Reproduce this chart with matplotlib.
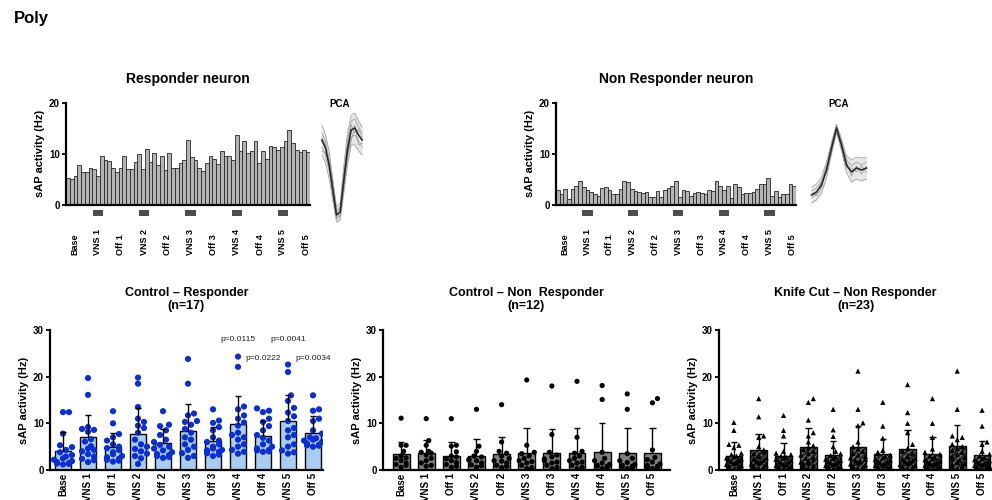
import numpy as np
import matplotlib
matplotlib.use('Agg')
import matplotlib.pyplot as plt
from matplotlib.transforms import blended_transform_factory

plt.rcParams['font.family'] = ['Liberation Sans', 'DejaVu Sans']
plt.rcParams['hatch.linewidth'] = 0.7

# ---------------- data ----------------
periods = ['Base', 'VNS 1', 'Off 1', 'VNS 2', 'Off 2', 'VNS 3',
           'Off 3', 'VNS 4', 'Off 4', 'VNS 5', 'Off 5']

# single-neuron firing, one bar per bin
resp_trace = [5.3, 5.0, 5.6, 7.8, 6.5, 6.5, 7.3, 7.0, 5.7, 9.6,
              8.8, 8.6, 7.3, 6.5, 7.2, 9.6, 7.0, 7.0, 8.5, 9.9,
              7.0, 11.0, 8.5, 10.1, 7.8, 9.5, 6.8, 10.1, 7.3, 7.2,
              8.3, 8.7, 12.7, 9.3, 8.7, 7.3, 6.6, 8.3, 9.5, 9.0,
              8.1, 10.6, 9.6, 9.6, 8.8, 13.6, 10.5, 12.5, 10.2, 10.5,
              12.6, 8.3, 10.5, 9.0, 11.6, 11.3, 10.7, 11.3, 12.6, 14.7,
              12.1, 10.7, 10.3, 10.7, 10.3]
nonresp_trace = [2.9, 2.1, 3.1, 1.1, 3.1, 3.7, 4.7, 3.6, 2.9, 2.6,
                 2.1, 1.8, 3.3, 3.6, 2.9, 2.1, 2.1, 3.1, 4.6, 4.4,
                 3.1, 2.7, 2.6, 2.4, 2.5, 1.5, 1.5, 2.7, 1.5, 2.9,
                 3.3, 3.7, 4.7, 1.5, 2.9, 2.8, 1.8, 2.3, 2.5, 2.4,
                 2.1, 2.9, 2.7, 4.7, 3.7, 2.9, 3.7, 1.4, 4.1, 3.6,
                 2.2, 2.4, 2.3, 2.5, 3.1, 4.1, 4.1, 5.2, 1.8, 2.7,
                 1.5, 2.2, 2.1, 4.1, 3.7]
trace_label_pos = [1.8, 8.0, 14.1, 20.3, 26.5, 32.6, 38.8, 45.0, 51.2, 57.3, 63.5]
vns_start = [6.6, 18.9, 31.2, 43.6, 55.9]
vns_width = 2.8

# spike waveforms (PCA cluster): individual traces and mean
resp_waves = [
    [100, 90, 74, 46, 18, 22, 60, 92, 110, 112, 104, 98],
    [92, 84, 66, 40, 12, 16, 52, 84, 104, 106, 98, 92],
    [88, 80, 58, 38, 14, 18, 48, 80, 100, 92, 96, 88],
    [78, 70, 54, 30, 6, 9, 40, 68, 88, 90, 84, 78],
    [74, 72, 62, 30, 8, 10, 38, 70, 84, 100, 80, 82],
    [70, 62, 46, 24, 3, 5, 32, 60, 80, 80, 74, 70],
]
resp_wave_mean = [85, 77, 60, 35, 10, 13, 45, 75, 95, 97, 90, 85]
nonresp_waves = [
    [25, 28, 35, 50, 70, 88, 73, 56, 52, 55, 54, 55],
    [21, 24, 31, 46, 67, 86, 70, 52, 46, 50, 47, 50],
    [14, 18, 30, 40, 62, 83, 64, 44, 44, 40, 46, 40],
    [19, 16, 24, 44, 60, 82, 66, 50, 36, 46, 38, 46],
    [9, 12, 19, 34, 58, 79, 61, 39, 30, 33, 31, 33],
]
nonresp_wave_mean = [17, 20, 27, 42, 64, 84, 67, 47, 40, 44, 42, 44]

# group summaries
cr_mean = [4.1, 7.0, 5.0, 7.7, 5.7, 8.4, 6.2, 9.9, 7.3, 10.6, 8.0]
cr_sd = [4.1, 4.8, 2.9, 5.5, 3.1, 5.7, 3.1, 6.0, 3.1, 5.5, 3.6]
cr_points = [
    [12.4, 12.4, 7.8, 5.3, 4.9, 4.3, 3.8, 3.2, 2.9, 2.5, 2.2, 1.9, 1.7, 1.5, 1.4, 1.3, 1.2],
    [19.7, 16.1, 9.2, 8.8, 8.6, 8.2, 6.6, 6.1, 5.1, 4.6, 4.3, 4.0, 3.4, 2.9, 2.4, 2.1, 1.7],
    [12.6, 10.0, 7.7, 7.0, 6.3, 5.5, 5.0, 4.7, 4.3, 3.8, 3.4, 3.0, 2.7, 2.4, 2.2, 2.0, 1.8],
    [19.8, 18.5, 13.5, 11.0, 10.3, 9.5, 9.0, 8.0, 6.5, 5.5, 5.0, 4.5, 4.0, 3.5, 3.0, 2.5, 1.3],
    [12.6, 9.7, 9.4, 8.5, 7.5, 6.5, 6.0, 5.4, 5.0, 4.6, 4.2, 3.8, 3.4, 3.0, 2.8, 2.6, 3.2],
    [23.8, 18.5, 12.1, 11.7, 10.5, 10.3, 9.7, 8.8, 8.0, 7.0, 6.5, 5.5, 5.0, 4.3, 3.6, 3.0, 2.6],
    [13.0, 10.6, 10.1, 9.2, 8.5, 7.0, 6.3, 6.0, 5.5, 5.0, 4.6, 4.2, 3.9, 3.6, 3.3, 3.0, 4.3],
    [24.3, 22.1, 13.6, 13.0, 11.7, 11.0, 10.2, 9.5, 8.0, 7.5, 7.0, 6.5, 5.5, 5.0, 4.3, 3.9, 3.5],
    [13.2, 12.7, 12.4, 11.0, 10.3, 9.4, 8.5, 7.5, 6.9, 6.3, 5.5, 5.0, 4.6, 4.3, 4.2, 4.0, 3.9],
    [22.6, 21.0, 16.0, 14.8, 13.3, 12.3, 11.5, 10.5, 9.0, 8.5, 7.5, 7.0, 5.5, 5.0, 4.2, 3.8, 3.5],
    [16.0, 13.0, 12.7, 11.0, 10.5, 8.5, 7.8, 7.0, 6.8, 6.3, 6.0, 5.7, 5.4, 5.2, 5.0, 5.3, 6.5],
]
p_text = ['p=0.0115', 'p=0.0222', 'p=0.0041', 'p=0.0034']
p_idx = [7, 8, 9, 10]
p_y = [28.0, 24.0, 28.0, 24.0]

cn_mean = [3.4, 3.7, 3.1, 3.0, 3.4, 3.7, 3.7, 3.7, 3.9, 3.6, 3.7]
cn_sd = [2.7, 2.7, 3.0, 3.6, 3.7, 5.2, 5.0, 5.2, 6.1, 5.5, 5.4]
cn_points = [
    [11.1, 5.3, 5.3, 4.0, 3.0, 2.6, 2.5, 2.0, 1.5, 1.2, 1.0, 0.6],
    [11.0, 6.3, 5.3, 4.0, 3.8, 3.6, 3.2, 2.5, 2.0, 1.5, 1.0, 0.8],
    [11.0, 5.3, 5.1, 3.9, 3.0, 2.8, 2.4, 2.0, 1.6, 1.2, 0.8, 0.6],
    [13.0, 5.1, 4.0, 3.0, 2.8, 2.3, 2.1, 2.0, 1.5, 1.1, 0.9, 0.6],
    [14.0, 6.0, 4.0, 3.6, 3.0, 2.5, 2.0, 1.9, 1.5, 1.0, 0.8, 0.5],
    [19.3, 5.3, 3.8, 3.5, 3.0, 2.5, 2.0, 1.8, 1.5, 1.0, 0.5, 0.3],
    [18.0, 7.6, 3.8, 3.2, 2.8, 2.4, 2.0, 1.7, 1.5, 1.0, 0.6, 0.3],
    [19.0, 7.0, 4.0, 3.6, 3.0, 2.5, 2.0, 1.7, 1.5, 1.0, 0.6, 0.3],
    [18.1, 15.1, 3.8, 2.5, 2.0, 1.5, 1.2, 1.0, 0.8, 0.8, 0.5, 0.3],
    [16.3, 13.0, 3.5, 2.5, 2.0, 1.6, 1.2, 1.0, 0.8, 0.7, 0.5, 0.3],
    [15.3, 14.4, 4.3, 2.7, 2.2, 1.7, 1.3, 1.0, 0.8, 0.6, 0.5, 0.3],
]

kc_mean = [3.1, 4.3, 3.1, 5.0, 3.3, 4.9, 3.4, 4.4, 3.5, 5.1, 3.3]
kc_sd = [2.8, 3.4, 2.7, 3.9, 3.0, 4.5, 3.2, 4.2, 3.5, 4.5, 3.0]
kc_points = [
    [10.2, 8.5, 5.5, 5.3, 4.8, 3.6, 3.3, 3.0, 2.8, 2.6, 2.4, 2.2, 2.0, 1.8, 1.6, 1.4, 1.2, 1.0, 0.9, 0.7, 0.5, 0.4, 0.3],
    [15.3, 11.4, 7.3, 7.0, 5.0, 4.3, 3.9, 3.5, 3.2, 2.9, 2.6, 2.4, 2.1, 1.9, 1.7, 1.5, 1.3, 1.1, 0.9, 0.7, 0.5, 0.4, 0.3],
    [11.7, 8.5, 7.3, 4.0, 3.6, 3.3, 3.0, 2.8, 2.5, 2.3, 2.1, 1.9, 1.7, 1.5, 1.3, 1.1, 1.0, 0.8, 0.7, 0.5, 0.4, 0.3, 0.2],
    [15.3, 14.5, 10.7, 8.0, 7.3, 6.0, 5.2, 4.8, 4.4, 4.0, 3.6, 3.2, 2.8, 2.5, 2.2, 1.9, 1.7, 1.5, 1.3, 1.0, 0.8, 0.5, 0.3],
    [13.0, 8.6, 7.2, 5.0, 4.0, 3.5, 3.1, 2.8, 2.5, 2.3, 2.1, 1.9, 1.7, 1.5, 1.3, 1.1, 1.0, 0.8, 0.7, 0.5, 0.4, 0.3, 0.2],
    [21.2, 13.0, 10.1, 9.5, 6.0, 5.0, 4.5, 4.0, 3.6, 3.2, 2.9, 2.6, 2.3, 2.0, 1.8, 1.5, 1.3, 1.1, 0.9, 0.7, 0.5, 0.4, 0.3],
    [14.5, 9.4, 6.8, 4.2, 3.8, 3.5, 3.2, 2.9, 2.6, 2.3, 2.1, 1.9, 1.7, 1.5, 1.3, 1.1, 1.0, 0.8, 0.7, 0.5, 0.4, 0.3, 0.2],
    [18.3, 12.3, 10.0, 8.0, 5.5, 4.6, 4.0, 3.5, 3.1, 2.8, 2.5, 2.3, 2.0, 1.8, 1.6, 1.4, 1.2, 1.0, 0.8, 0.6, 0.5, 0.4, 0.3],
    [15.3, 10.0, 7.0, 4.5, 3.8, 3.4, 3.0, 2.7, 2.4, 2.2, 2.0, 1.8, 1.6, 1.4, 1.3, 1.1, 1.0, 0.8, 0.7, 0.5, 0.4, 0.3, 0.2],
    [21.2, 13.0, 7.3, 7.0, 6.5, 5.5, 5.0, 4.6, 4.2, 3.8, 3.4, 3.0, 2.7, 2.4, 2.1, 1.8, 1.6, 1.4, 1.2, 1.0, 0.8, 0.5, 0.3],
    [12.8, 9.4, 6.0, 5.5, 4.0, 3.4, 3.0, 2.7, 2.4, 2.2, 2.0, 1.8, 1.6, 1.4, 1.3, 1.1, 1.0, 0.8, 0.7, 0.5, 0.4, 0.3, 0.2],
]


def swarm(vals, dx, dy, max_off):
    # simple beeswarm: place each point at the closest free horizontal slot
    vals = np.asarray(vals, dtype=float)
    offs = np.zeros(len(vals))
    placed = []
    cands = [0.0]
    k = 1
    while k * dx / 2 <= max_off + 1e-9:
        cands += [k * dx / 2, -k * dx / 2]
        k += 1
    for i in np.argsort(vals):
        v = vals[i]
        pick = None
        for c in cands:
            if all(((c - px) / dx) ** 2 + ((v - py) / dy) ** 2 >= 1 for px, py in placed):
                pick = c
                break
        if pick is None:
            pick = cands[len(placed) % len(cands)]
        offs[i] = pick
        placed.append((pick, v))
    return offs


def style_axis(ax, yticks):
    for s in ['top', 'right']:
        ax.spines[s].set_visible(False)
    ax.spines['left'].set_linewidth(1.6)
    ax.spines['bottom'].set_linewidth(1.6)
    ax.set_yticks(yticks)
    ax.set_yticklabels([str(t) for t in yticks], fontsize=7, fontweight='bold')
    ax.tick_params(axis='y', length=3, width=1.3, pad=1.5)
    ax.set_ylabel('sAP activity (Hz)', fontsize=8, fontweight='bold', labelpad=3)


def trace_panel(rect, trace, title):
    ax = fig.add_axes(rect)
    x = np.arange(len(trace))
    ax.bar(x, trace, width=1.0, color='#b4b4b4', edgecolor='#262626', linewidth=0.6)
    ax.set_xlim(-0.5, len(trace) - 0.5)
    ax.set_ylim(0, 20)
    style_axis(ax, [0, 10, 20])
    ax.set_xticks([])
    ax.set_title(title, fontsize=10, fontweight='bold', pad=14)
    ax.broken_barh([(s, vns_width) for s in vns_start], (-2.1, 1.1),
                   facecolors='#4d4d4d', clip_on=False)
    tr = blended_transform_factory(ax.transData, ax.transAxes)
    for p, lab in zip(trace_label_pos, periods):
        ax.text(p, -0.49, lab, transform=tr, rotation=90, ha='center', va='bottom',
                fontsize=6.5, fontweight='bold')
    return ax


def wave_panel(rect, waves, mean, ylim, label_xy):
    ax = fig.add_axes(rect)
    t = np.arange(len(mean))
    ax.fill_between(t, np.min(waves, axis=0), np.max(waves, axis=0),
                    color='#e6e6e6', lw=0)
    for w in waves:
        ax.plot(t, w, color='#8c8c8c', lw=0.5, alpha=0.9)
    ax.plot(t, mean, color='#2a2a2a', lw=1.2)
    ax.set_xlim(-0.5, len(mean) - 0.5)
    ax.set_ylim(*ylim)
    ax.axis('off')
    fig.text(label_xy[0], label_xy[1], 'PCA', fontsize=7, fontweight='bold',
             ha='center', va='center')


def summary_panel(rect, xlim, means, sds, points, title, face, pcolor, marker,
                  size, dx, dy, hatch=None):
    ax = fig.add_axes(rect)
    x = np.arange(len(periods))
    if hatch:
        ax.bar(x, means, width=0.67, color=face, edgecolor='#8c8c8c', linewidth=0,
               hatch=hatch, zorder=2)
        ax.bar(x, means, width=0.67, fill=False, edgecolor='black', linewidth=1.0, zorder=2)
    else:
        ax.bar(x, means, width=0.67, color=face, edgecolor='black', linewidth=1.0, zorder=2)
    tops = np.array(means) + np.array(sds)
    ax.vlines(x, means, tops, color='black', lw=1.0, zorder=4)
    ax.hlines(tops, x - 0.13, x + 0.13, color='black', lw=1.0, zorder=4)
    for i, vals in enumerate(points):
        offs = swarm(vals, dx, dy, 0.36)
        ax.scatter(i + offs, vals, s=size, color=pcolor, marker=marker,
                   edgecolors='none', zorder=3)
    ax.set_xlim(*xlim)
    ax.set_ylim(0, 30)
    style_axis(ax, [0, 10, 20, 30])
    ax.set_xticks(x)
    ax.set_xticklabels(periods, rotation=90, fontsize=7, fontweight='bold')
    ax.tick_params(axis='x', length=0, pad=2)
    ax.set_title(title, fontsize=9, fontweight='bold', pad=15, linespacing=1.15)
    return ax


fig = plt.figure(figsize=(9.92, 5.0), dpi=100)

fig.text(14 / 992, 1 - 18 / 500, 'Poly', fontsize=12, fontweight='bold', va='center')

trace_panel([66 / 992, 0.59, 244 / 992, 0.2046], resp_trace, 'Responder neuron')
trace_panel([556 / 992, 0.59, 240 / 992, 0.2046], nonresp_trace, 'Non Responder neuron')

wave_panel([320 / 992, 1 - 225 / 500, 44 / 992, 115 / 500], resp_waves,
           resp_wave_mean, (0, 115), (340 / 992, 1 - 104 / 500))
wave_panel([809 / 992, 1 - 212 / 500, 60 / 992, 92 / 500], nonresp_waves,
           nonresp_wave_mean, (0, 92), (839 / 992, 1 - 104 / 500))

ax_cr = summary_panel([50 / 992, 0.06, 273 / 992, 0.28], (-0.52, 10.4), cr_mean, cr_sd,
                      cr_points, 'Control \u2013 Responder\n(n=17)', '#a9cdf2', '#0b2fd0',
                      'o', 20, 0.24, 1.3)
for t, i, y in zip(p_text, p_idx, p_y):
    ax_cr.text(i, y, t, fontsize=6, ha='center', va='center', color='#222222')

summary_panel([383 / 992, 0.06, 287 / 992, 0.28], (-0.72, 10.7), cn_mean, cn_sd,
              cn_points, 'Control \u2013 Non  Responder\n(n=12)', '#7f7f7f', 'black',
              'o', 14, 0.2, 1.1)
summary_panel([719 / 992, 0.06, 273 / 992, 0.28], (-0.6, 10.4), kc_mean, kc_sd,
              kc_points, 'Knife Cut \u2013 Non Responder\n(n=23)', '#2a2a2a', 'black',
              '^', 14, 0.2, 1.1, hatch='//////')

fig.savefig('out.png', dpi=100)
